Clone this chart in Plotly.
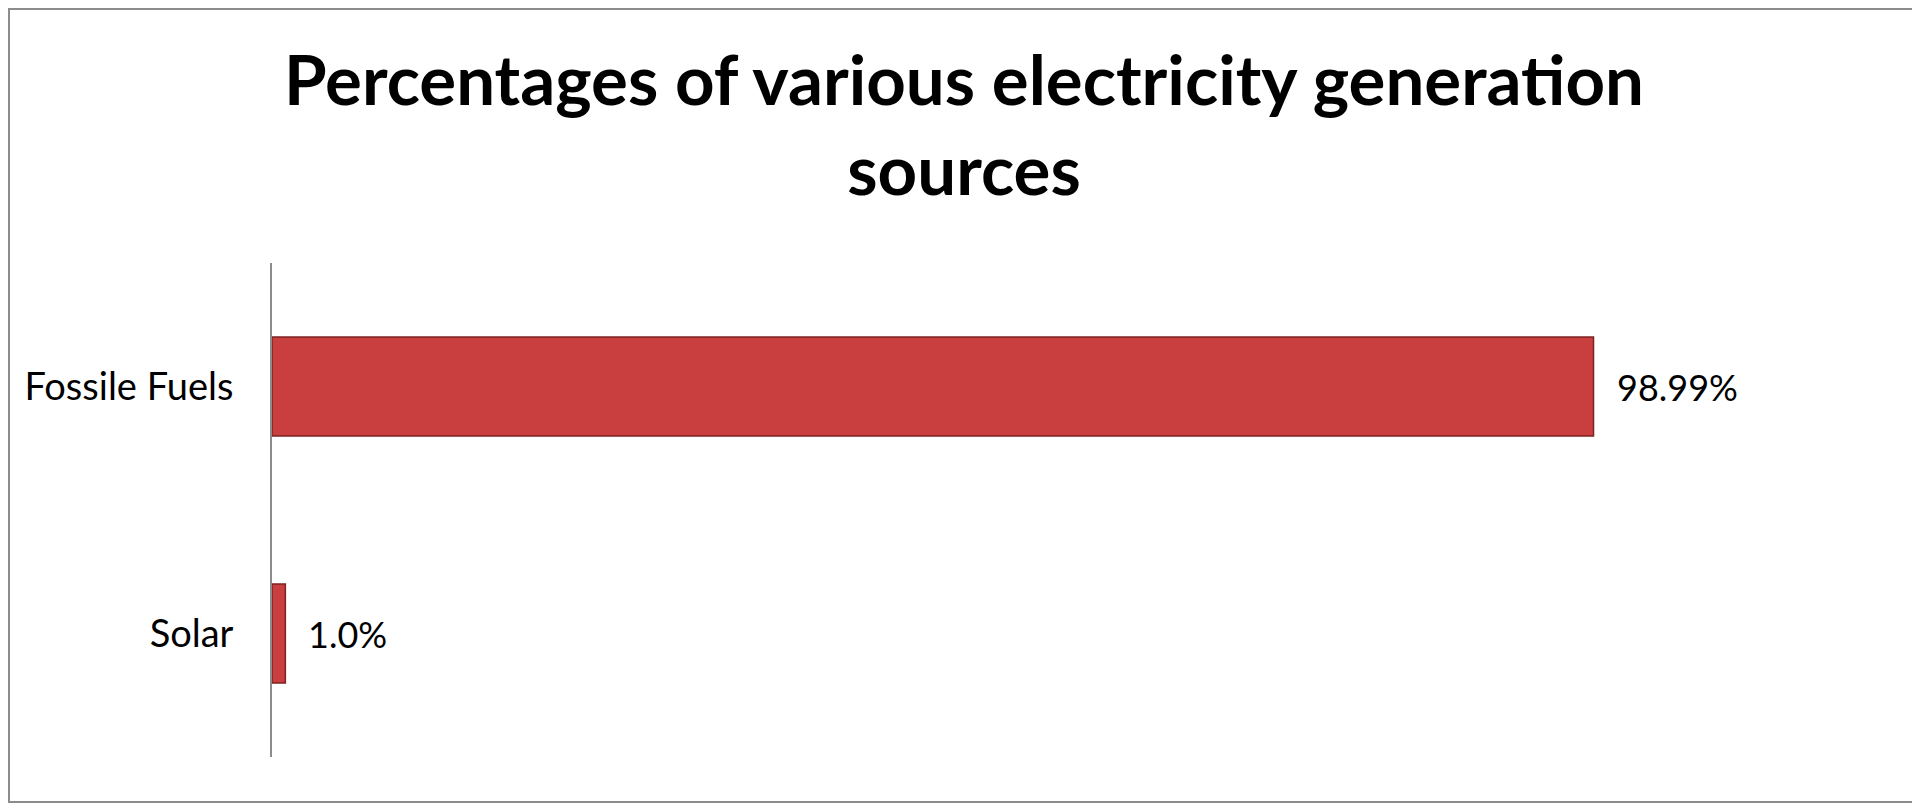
import plotly.graph_objects as go

# datos
sources = ["Fossile Fuels", "Solar"]
shares = [98.99, 1.0]
share_labels = ["98.99%", "1.0%"]

TITLE = "Percentages of various electricity generation<br>sources"
BAR_RED = "#C93E3F"
BAR_EDGE = "#7E2222"

# la pagina tiene un margen de 8px en el body
W, H = 1912, 795
M = dict(l=264, r=46, t=255, b=46)
pw = W - M["l"] - M["r"]
ph = H - M["t"] - M["b"]

fig = go.Figure(go.Bar(
    y=sources, x=shares, orientation="h",
    marker=dict(color=BAR_RED, line=dict(color=BAR_EDGE, width=1.5)),
    width=0.4,
    hoverinfo="skip",
))

for s, v, lab in zip(sources, shares, share_labels):
    fig.add_annotation(x=v, y=s, text=lab, showarrow=False,
                       xanchor="left", xshift=21,
                       font=dict(family="Lato, sans-serif", size=36, color="#000000"))

# marco gris alrededor de toda la figura
fig.add_shape(type="rect", xref="paper", yref="paper",
              x0=-(M["l"] - 1) / pw, x1=1 + (M["r"] - 1) / pw,
              y0=-(M["b"] - 1) / ph, y1=1 + (M["t"] - 1) / ph,
              line=dict(color="#8C8C8C", width=2))

fig.update_layout(
    width=W, height=H, margin=M,
    paper_bgcolor="white", plot_bgcolor="white",
    font=dict(family="Lato, sans-serif", color="#000000"),
    title=dict(text=f"<b>{TITLE}</b>", x=0.5, xanchor="center",
               y=1 - 97 / H, yanchor="middle",
               font=dict(family="Lato, sans-serif", size=69, color="#000000")),
    showlegend=False,
    xaxis=dict(range=[0, 120], visible=False, fixedrange=True),
    yaxis=dict(autorange=False, range=[1.5, -0.5], showgrid=False,
               showline=True, linecolor="#8C8C8C", linewidth=2,
               ticks="", ticklabelstandoff=29,
               tickfont=dict(family="Lato, sans-serif", size=38, color="#000000")),
)

fig.write_html("out.html")
